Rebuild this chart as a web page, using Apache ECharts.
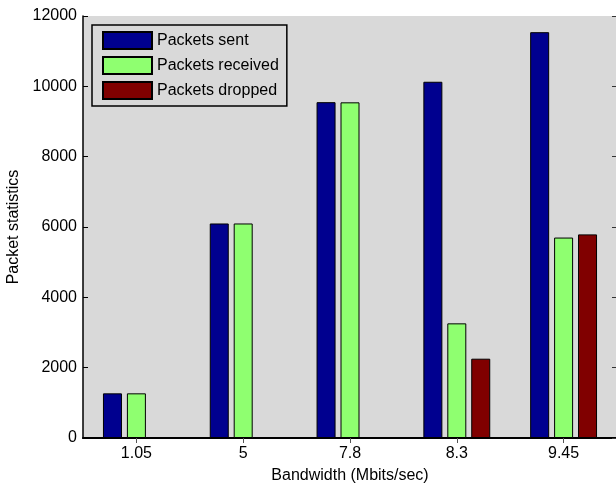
<!DOCTYPE html>
<html>
<head>
<meta charset="utf-8">
<script src="https://cdn.jsdelivr.net/npm/echarts@6/dist/echarts.min.js"></script>
<style>
html,body{margin:0;padding:0;background:#fff;}
#chart{width:616px;height:483px;}
</style>
</head>
<body>
<div id="chart"></div>
<script>
const categories = ['1.05', '5', '7.8', '8.3', '9.45'];
const packetsSent = [1270, 6100, 9550, 10130, 11540];
const packetsReceived = [1270, 6100, 9545, 3260, 5700];
const packetsDropped = [0, 0, 0, 2255, 5790];
const yTicks = [0, 2000, 4000, 6000, 8000, 10000, 12000];

const FONT = "'Liberation Sans', Arial, sans-serif";
const chart = echarts.init(document.getElementById('chart'), null, {renderer: 'canvas'});

function barSeries(name, data, color) {
  return {
    name: name,
    type: 'bar',
    data: data,
    barWidth: 19,
    barGap: '26%',
    xAxisIndex: 0,
    yAxisIndex: 0,
    itemStyle: {color: color, borderColor: '#000', borderWidth: 1},
    emphasis: {disabled: true},
    animation: false
  };
}

chart.setOption({
  animation: false,
  backgroundColor: '#fff',
  textStyle: {fontFamily: FONT},
  grid: {
    left: 83, top: 16, width: 534, height: 422,
    containLabel: false,
    outerBoundsMode: 'none',
    show: true, backgroundColor: '#d9d9d9', borderWidth: 0
  },
  legend: {
    orient: 'vertical',
    left: 92, top: 25,
    padding: [6, 8, 6, 10],
    itemWidth: 49, itemHeight: 17, itemGap: 6,
    icon: 'rect',
    backgroundColor: '#d9d9d9',
    borderColor: '#000', borderWidth: 1.5,
    textStyle: {fontFamily: FONT, fontSize: 16, color: '#000', lineHeight: 17},
    data: ['Packets sent', 'Packets received', 'Packets dropped']
  },
  xAxis: [{
    type: 'category',
    data: categories,
    position: 'bottom',
    name: 'Bandwidth (Mbits/sec)',
    nameLocation: 'middle',
    nameGap: 30,
    nameTextStyle: {fontFamily: FONT, fontSize: 16, color: '#000'},
    axisLine: {show: true, lineStyle: {color: '#000', width: 2}},
    axisTick: {show: true, inside: true, alignWithLabel: true, length: 5, lineStyle: {color: '#000'}},
    axisLabel: {fontFamily: FONT, fontSize: 16, color: '#000', margin: 8},
    splitLine: {show: false}
  }, {
    type: 'category',
    data: categories,
    position: 'top',
    axisLine: {show: true, lineStyle: {color: '#000', width: 1}},
    axisTick: {show: true, inside: true, alignWithLabel: true, length: 5, lineStyle: {color: '#555'}},
    axisLabel: {show: false},
    splitLine: {show: false}
  }],
  yAxis: [{
    type: 'value',
    min: yTicks[0], max: yTicks[yTicks.length - 1], interval: 2000,
    position: 'left',
    name: 'Packet statistics',
    nameLocation: 'middle',
    nameGap: 57,
    nameTextStyle: {fontFamily: FONT, fontSize: 16, color: '#000'},
    axisLine: {show: true, lineStyle: {color: '#000', width: 1.5}},
    axisTick: {show: true, inside: true, length: 5, lineStyle: {color: '#000'}},
    axisLabel: {fontFamily: FONT, fontSize: 16, color: '#000', margin: 6, formatter: function (v) { return String(v); }},
    splitLine: {show: false}
  }, {
    type: 'value',
    min: yTicks[0], max: yTicks[yTicks.length - 1], interval: 2000,
    position: 'right',
    axisLine: {show: true, lineStyle: {color: '#000', width: 1}},
    axisTick: {show: true, inside: true, length: 5, lineStyle: {color: '#333'}},
    axisLabel: {show: false},
    splitLine: {show: false}
  }],
  series: [
    barSeries('Packets sent', packetsSent, '#00008f'),
    barSeries('Packets received', packetsReceived, '#8fff70'),
    barSeries('Packets dropped', packetsDropped, '#800000')
  ]
});
</script>
</body>
</html>
